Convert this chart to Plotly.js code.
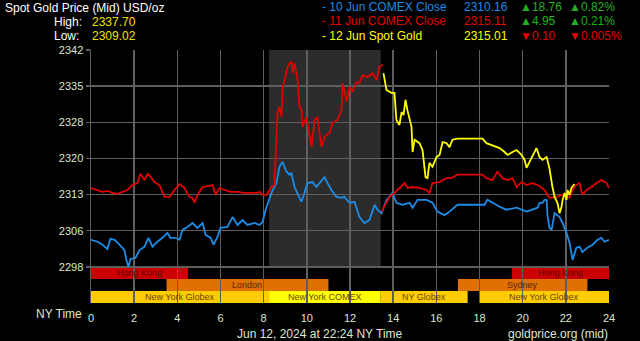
<!DOCTYPE html>
<html>
<head>
<meta charset="utf-8">
<script src="https://cdn.plot.ly/plotly-3.0.1.min.js"></script>
<style>
html,body{margin:0;padding:0;background:#000;}
#chart{width:640px;height:341px;}
</style>
</head>
<body>
<div id="chart"></div>
<script>
// ---------- DATA ----------
// Hours (NY time) and prices
var blueHours = [0,0.30,0.53,0.76,0.90,1.09,1.32,1.55,1.64,1.74,1.83,2.06,2.25,2.48,2.66,2.85,3.08,3.31,3.54,3.68,3.92,4.10,4.24,4.47,4.70,4.93,5.17,5.31,5.54,5.68,5.86,6.00,6.32,6.56,6.79,7.02,7.25,7.58,7.81,7.95,8.09,8.27,8.36,8.59,8.73,8.87,9.06,9.20,9.29,9.43,9.57,9.75,9.89,10.03,10.26,10.45,10.59,10.82,10.96,11.14,11.37,11.61,11.74,11.98,12.21,12.44,12.67,12.90,13.14,13.27,13.46,13.69,13.97,14.15,14.43,14.76,14.90,15.13,15.55,15.82,16.05,16.38,16.61,16.98,17.40,18.00,18.23,18.37,18.60,18.93,19.25,19.72,20.18,20.46,20.69,20.78,20.92,21.01,21.11,21.15,21.24,21.34,21.48,21.71,21.85,22.03,22.17,22.26,22.31,22.49,22.63,22.77,23.00,23.24,23.47,23.65,23.79,24.00];
var blueValues = [2303.5,2303.1,2302.5,2301.6,2303.7,2303.5,2302.5,2301.4,2299.4,2298.0,2299.6,2299.8,2301.4,2302.1,2303.9,2302.1,2303.1,2303.9,2304.9,2303.9,2303.9,2303.5,2305.5,2306.1,2306.9,2305.9,2306.9,2304.5,2303.9,2302.5,2304.1,2305.9,2306.1,2308.1,2306.5,2307.5,2306.5,2306.9,2306.5,2307.1,2309.6,2311.6,2313.0,2315.0,2318.3,2319.3,2317.3,2316.7,2317.0,2314.2,2313.0,2311.2,2313.0,2315.0,2315.2,2314.2,2315.0,2316.2,2315.0,2313.6,2312.2,2312.0,2312.2,2311.0,2311.2,2308.1,2306.9,2307.5,2310.6,2309.6,2308.9,2311.5,2313.0,2311.0,2310.6,2311.0,2310.0,2311.6,2311.6,2311.0,2309.2,2308.5,2309.2,2310.6,2310.6,2310.6,2310.6,2311.6,2311.0,2310.2,2309.6,2310.0,2309.2,2309.6,2310.0,2311.0,2311.0,2311.6,2311.6,2308.5,2305.9,2305.5,2308.9,2308.1,2306.9,2304.9,2302.9,2300.8,2299.4,2301.9,2302.1,2301.0,2301.9,2302.5,2303.5,2303.9,2303.1,2303.5];

// 11 Jun COMEX close: two segments (gap at the COMEX close)
var redHoursA = [0,0.30,0.53,0.76,1.00,1.23,1.46,1.69,1.92,2.15,2.29,2.48,2.62,2.76,2.94,3.17,3.41,3.64,3.87,4.10,4.33,4.56,4.70,4.80,4.93,5.17,5.40,5.63,5.77,5.95,6.19,6.46,6.79,7.11,7.39,7.71,7.81,7.95,8.13,8.36,8.50,8.59,8.64,8.73,8.83,8.87,9.06,9.20,9.29,9.34,9.43,9.57,9.66,9.75,9.80,9.98,10.12,10.22,10.36,10.49,10.68,10.82,11.05,11.19,11.42,11.61,11.65,11.74,11.84,11.98,12.12,12.30,12.44,12.58,12.81,13.04,13.23,13.37,13.51];
var redValuesA = [2314.0,2313.6,2313.2,2313.4,2313.0,2312.8,2313.2,2313.6,2314.6,2315.0,2316.9,2315.6,2316.9,2316.3,2315.2,2314.6,2312.2,2312.2,2313.6,2314.8,2314.0,2312.2,2312.0,2311.0,2312.6,2314.2,2314.4,2314.6,2312.6,2314.0,2313.6,2313.2,2313.2,2313.0,2313.0,2313.0,2313.2,2312.6,2312.6,2314.2,2314.6,2323.8,2329.2,2330.5,2328.4,2333.9,2337.9,2339.4,2339.6,2337.3,2339.4,2335.9,2330.5,2329.8,2326.4,2328.4,2325.2,2322.3,2327.8,2328.4,2322.3,2324.4,2325.2,2327.2,2327.8,2329.8,2335.3,2333.9,2331.5,2334.5,2333.5,2335.5,2335.3,2336.9,2336.5,2337.3,2335.9,2338.6,2339.0];
var redHoursB = [13.46,13.69,13.83,14.06,14.29,14.53,14.66,14.90,15.22,15.55,15.68,15.82,16.15,16.47,16.70,16.98,17.54,18.14,18.32,18.60,18.83,19.07,19.30,19.53,19.72,19.95,20.18,20.46,20.78,21.01,21.15,21.24,21.57,21.85,22.17,22.31,22.49,22.63,22.77,22.96,23.19,23.42,23.65,23.89,24.00];
var redValuesB = [2309.2,2311.0,2312.2,2313.0,2314.0,2315.0,2314.0,2314.2,2314.0,2313.6,2313.0,2315.0,2315.2,2316.0,2316.0,2316.7,2316.7,2316.7,2316.0,2315.6,2317.3,2316.0,2315.6,2316.0,2314.2,2315.2,2314.6,2315.0,2314.4,2313.6,2312.6,2312.0,2312.2,2312.6,2312.0,2313.6,2314.6,2315.0,2312.6,2313.6,2314.2,2315.0,2315.6,2315.0,2314.0];

// 12 Jun spot gold
var yellowHours = [13.55,13.69,13.92,14.06,14.15,14.29,14.39,14.48,14.57,14.66,14.85,14.90,14.99,15.22,15.36,15.50,15.59,15.68,15.82,16.01,16.15,16.29,16.47,16.61,16.75,16.98,17.54,18.14,18.32,18.60,18.93,19.16,19.30,19.53,19.72,19.95,20.09,20.18,20.41,20.64,20.78,20.92,21.11,21.24,21.38,21.48,21.61,21.71,21.80,21.85,21.94,22.03,22.08,22.17,22.26,22.40];
var yellowValues = [2337.3,2333.9,2333.3,2333.3,2327.8,2326.8,2329.4,2328.8,2331.9,2329.8,2326.4,2321.3,2323.8,2323.1,2321.7,2316.2,2316.0,2319.1,2318.3,2320.3,2320.7,2323.3,2323.1,2322.3,2323.8,2324.0,2324.0,2324.0,2323.1,2322.7,2322.1,2321.3,2320.7,2321.3,2321.7,2320.7,2319.7,2318.1,2320.1,2322.1,2320.3,2319.7,2320.3,2318.0,2314.2,2312.2,2311.0,2308.9,2310.2,2311.6,2313.0,2311.6,2313.6,2312.6,2314.0,2314.8];

// Axis ticks
var yTickLabels = ["2298","2306","2313","2320","2328","2335","2342"];
var xTickLabels = ["0","2","4","6","8","10","12","14","16","18","20","22","24"];

// Market sessions
var sessionNames = ["Hong Kong","Hong Kong","London","Sydney","New York Globex","New York COMEX","NY Globex","New York Globex"];
var sessionStart = [0,19.5,3.5,17.0,0,8.25,13.42,18.0];
var sessionEnd   = [4.5,24,11.0,23.0,8.25,13.42,17.45,24];
var sessionRow   = [0,0,1,1,2,2,2,2];
var sessionKind  = ["hk","hk","eu","eu","ny","comex","ny","ny"];

// COMEX shaded period
var comexStart = 8.25, comexEnd = 13.42;

// Header text
var legendNames = ["- 10 Jun COMEX Close","- 11 Jun COMEX Close","- 12 Jun Spot Gold"];
var legendPrices = ["2310.16","2315.11","2315.01"];
var legendChanges = ["\u25B218.76","\u25B24.95","\u25BC0.10"];
var legendPercents = ["\u25B20.82%","\u25B20.21%","\u25BC0.005%"];
var legendUp = [true,true,false];
var highValue = "2337.70", lowValue = "2309.02";

(function(){
  var W=640,H=341, L=91, R=31, T=50, B=38;
  var yMin=2290.667, yMax=2342;
  var yStep=(yMax-2298)/6;
  var yTickVals = [];
  for (var t=0;t<yTickLabels.length;t++){ yTickVals.push(2298+t*yStep); }
  var xTickVals = [];
  for (var t2=0;t2<xTickLabels.length;t2++){ xTickVals.push(parseFloat(xTickLabels[t2])); }
  var rowH = yStep*12/36;

  var cBlue='#1c8ce6', cRed='#e00000', cYellow='#ffff00', cGreen='#22b022', cPale='#dde6cc';
  var fam='Liberation Sans, Arial, sans-serif';
  var kindColor = {hk:'#cc0000', eu:'#e07000', ny:'#ffcc00', comex:'#ffff00'};
  var kindText = {hk:'#5e0000', eu:'#5a2600', ny:'#6a4400', comex:'#6a4400'};

  function px(X){return (X-L)/(W-L-R);}
  function py(Y){return (H-B-Y)/(H-T-B);}

  var traces = [
    {x:blueHours,y:blueValues,type:'scatter',mode:'lines',line:{color:cBlue,width:1.8},hoverinfo:'skip'},
    {x:redHoursA,y:redValuesA,type:'scatter',mode:'lines',line:{color:cRed,width:1.8},hoverinfo:'skip'},
    {x:redHoursB,y:redValuesB,type:'scatter',mode:'lines',line:{color:cRed,width:1.8},hoverinfo:'skip'},
    {x:yellowHours,y:yellowValues,type:'scatter',mode:'lines',line:{color:cYellow,width:1.8},hoverinfo:'skip'}
  ];

  var shapes = [{type:'rect',xref:'x',yref:'y',x0:comexStart,x1:comexEnd,y0:2298,y1:yMax,fillcolor:'#2c2c2c',line:{width:0},layer:'below'}];
  var annotations = [];
  for (var i=0;i<sessionNames.length;i++){
    var rowTop = 2298 - sessionRow[i]*rowH;
    shapes.push({type:'rect',xref:'x',yref:'y',x0:sessionStart[i],x1:sessionEnd[i],y0:rowTop-rowH,y1:rowTop,
      fillcolor:kindColor[sessionKind[i]],line:{width:0},layer:'below'});
    annotations.push({xref:'x',yref:'y',x:(sessionStart[i]+sessionEnd[i])/2,y:rowTop-rowH/2,text:sessionNames[i],
      showarrow:false,borderpad:0,font:{family:fam,size:9,color:kindText[sessionKind[i]]},xanchor:'center',yanchor:'middle'});
  }

  function txt(X,Y,s,color,size,anchor){
    annotations.push({xref:'paper',yref:'paper',x:px(X),y:py(Y),text:s,showarrow:false,borderpad:0,
      font:{family:fam,size:size||12,color:color},xanchor:anchor||'left',yanchor:'middle'});
  }
  txt(4,7.5,'Spot Gold Price (Mid) USD/oz','#ffffff');
  txt(53,22,'High:','#ffffff');
  txt(53,36,'Low:','#ffffff');
  txt(91,22,highValue,'#f2e200');
  txt(91,36,lowValue,'#f2e200');
  var rowY=[7,21.5,36], nameCol=[cBlue,cRed,cYellow];
  for (var k=0;k<3;k++){
    txt(321,rowY[k],legendNames[k],nameCol[k]);
    txt(463,rowY[k],legendPrices[k],nameCol[k]);
    var cc = legendUp[k]?cGreen:cRed;
    txt(519,rowY[k],legendChanges[k],cc);
    txt(568,rowY[k],legendPercents[k],cc);
  }
  txt(35,314,'NY Time',cPale,12);
  txt(320,334,'Jun 12, 2024 at 22:24 NY Time',cPale,12,'center');
  txt(609,334,'goldprice.org (mid)',cPale,12,'right');

  var layout = {
    width:W,height:H,
    paper_bgcolor:'#000',plot_bgcolor:'#000',
    margin:{l:L,r:R,t:T,b:B},
    showlegend:false,
    xaxis:{range:[0,24],tickmode:'array',tickvals:xTickVals,ticktext:xTickLabels,showgrid:true,gridcolor:'#5e5e5e',gridwidth:1.5,
      zeroline:false,showline:false,ticks:'outside',ticklen:5,tickcolor:'rgba(0,0,0,0)',
      tickfont:{family:fam,size:11,color:cPale},fixedrange:true},
    yaxis:{range:[yMin,yMax],tickmode:'array',tickvals:yTickVals,ticktext:yTickLabels,showgrid:true,gridcolor:'#5e5e5e',gridwidth:1.5,
      zeroline:false,showline:true,linecolor:'#5e5e5e',linewidth:1.5,ticks:'outside',ticklen:4,tickcolor:'#5e5e5e',tickwidth:1.5,
      tickfont:{family:fam,size:11,color:cPale},fixedrange:true},
    shapes:shapes,
    annotations:annotations
  };
  Plotly.newPlot('chart',traces,layout,{displayModeBar:false,staticPlot:true});
})();
</script>
</body>
</html>
